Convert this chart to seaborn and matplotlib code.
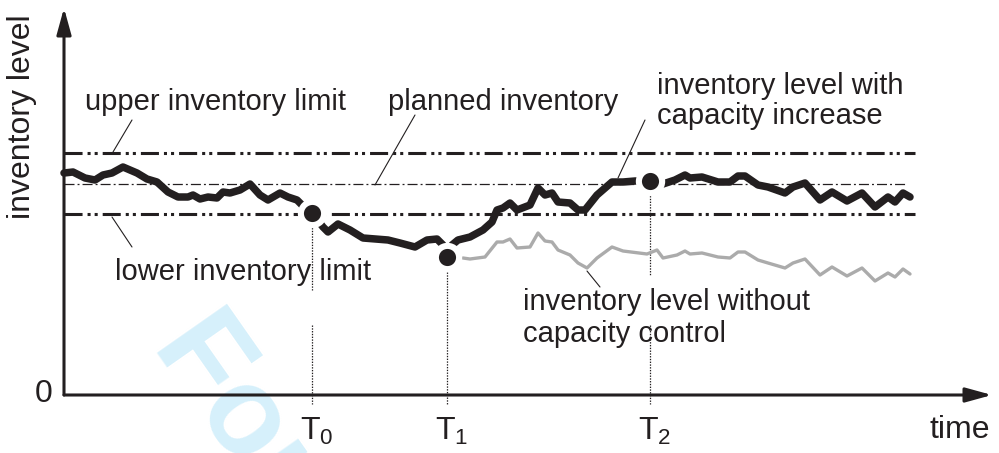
import matplotlib
matplotlib.use("Agg")
import matplotlib.pyplot as plt
import seaborn as sns
import pandas as pd

# ---------------- data (time units / inventory units) ----------------
black_time = [0, 9, 21, 31, 39, 48, 59, 73, 83, 93, 104, 114, 124, 129, 136, 144, 153, 159, 166, 176,
              186, 196, 204, 216, 224, 233, 238, 248,
              259, 264, 274, 286, 299, 324, 336, 351, 363, 373, 379, 383,
              388, 394, 406, 419, 428, 433, 439, 446, 453, 466, 474, 481, 488, 494, 506, 514, 521, 533,
              548, 559, 571, 586,
              599, 611, 621, 626, 638, 654, 666, 674, 681, 694, 704, 721, 729, 741, 756, 768, 783, 798,
              811, 824, 831, 839, 846]
black_level = [222, 223, 217, 215, 220, 222, 228, 222, 216, 213, 203, 198, 198, 200, 196, 198, 197, 203, 202, 205,
               211, 200, 195, 202, 198, 195, 190, 182,
               168, 163, 171, 165, 157, 155, 152, 148, 155, 156, 150, 138,
               150, 155, 158, 165, 173, 185, 187, 192, 185, 190, 207, 200, 202, 193, 192, 185, 185, 200,
               213, 213, 214, 214,
               211, 215, 220, 217, 218, 213, 213, 219, 219, 210, 208, 202, 208, 212, 195, 203, 194, 202,
               188, 198, 193, 202, 198]

gray_time = [399, 406, 421, 433, 439, 446, 453, 466, 474, 481, 488, 494, 506, 514, 523, 533, 548, 559, 583, 593,
             599, 613, 621, 626, 638, 654, 666, 674, 681, 694, 704, 721, 729, 741, 756, 768, 783, 798, 811, 824,
             831, 839, 846]
gray_level = [137, 136, 138, 153, 153, 156, 147, 148, 162, 154, 153, 145, 140, 132, 127, 137, 148, 144, 141, 145,
              137, 140, 144, 141, 142, 138, 137, 143, 143, 135, 132, 127, 132, 136, 120, 128, 119, 127, 114, 122,
              118, 126, 121]

upper_limit = 242
planned_level = 211
lower_limit = 181
limit_end = 851
planned_end = 843

event_labels = ["0", "1", "2"]
event_time = [248, 383, 586]
event_level = [182, 138, 214]

time_end = 928
level_end = 387

# ---------------- style ----------------
sns.set_theme(style="white")
plt.rcParams["font.family"] = ["Liberation Sans", "DejaVu Sans"]
plt.rcParams["mathtext.fontset"] = "custom"
plt.rcParams["mathtext.rm"] = "Liberation Sans"
plt.rcParams["mathtext.it"] = "Liberation Sans"
plt.rcParams["lines.scale_dashes"] = False

INK = "#231f20"
GRAY = "#ababab"

fig = plt.figure(figsize=(9.99, 4.53), dpi=100)
ax = fig.add_axes([0, 0, 1, 1])

# watermark (faint, behind everything)
ax.text(88, 50, "For Peer Review", rotation=-55, rotation_mode="anchor", ha="left", va="baseline",
        fontsize=89, fontweight="bold", color="#d6f0fb", zorder=0, family=["Liberation Sans"])

# axes with arrows
arrow_kw = dict(arrowstyle="-|>,head_length=0.8,head_width=0.22", lw=2.2, color=INK,
                shrinkA=0, shrinkB=0, mutation_scale=20)
ax.annotate("", xy=(0, level_end), xytext=(0, 0), arrowprops=arrow_kw, zorder=5)
ax.annotate("", xy=(time_end, 0), xytext=(0, 0), arrowprops=arrow_kw, zorder=5)

# limit lines
thick_dash = (0, (13, 3.6, 2.2, 2.9, 2.2, 3.6))
thin_dash = (0, (7.2, 2.2, 1.4, 2.2))
ax.plot([0, limit_end], [upper_limit, upper_limit], color=INK, lw=2.2, linestyle=thick_dash, zorder=2)
ax.plot([0, limit_end], [lower_limit, lower_limit], color=INK, lw=2.2, linestyle=thick_dash, zorder=2)
ax.plot([0, planned_end], [planned_level, planned_level], color=INK, lw=0.9, linestyle=thin_dash, zorder=2)

# dotted event markers
dot_style = dict(color=INK, lw=0.9, linestyle=(0, (1, 1)), zorder=1)
ax.plot([event_time[0]] * 2, [173, 105], **dot_style)
ax.plot([event_time[0]] * 2, [70, -9], **dot_style)
ax.plot([event_time[1]] * 2, [123, -9], **dot_style)
ax.plot([event_time[2]] * 2, [205, 120], **dot_style)
ax.plot([event_time[2]] * 2, [70, -9], **dot_style)

# series
gray_df = pd.DataFrame({"time": gray_time, "level": gray_level})
black_df = pd.DataFrame({"time": black_time, "level": black_level})
sns.lineplot(data=gray_df, x="time", y="level", ax=ax, color=GRAY, lw=2.4,
             estimator=None, sort=False, zorder=3)
sns.lineplot(data=black_df, x="time", y="level", ax=ax, color=INK, lw=5.4,
             estimator=None, sort=False, zorder=4)
ev_df = pd.DataFrame({"time": event_time, "level": event_level})
sns.scatterplot(data=ev_df, x="time", y="level", ax=ax, color=INK, s=280,
                edgecolor="white", linewidth=4.4, zorder=6)
ax.set_xlim(-64, 935)
ax.set_ylim(-58, 395)
ax.axis("off")

# leader lines
lead = dict(color=INK, lw=0.8, zorder=2)
ax.plot([68, 49], [275, 243], **lead)
ax.plot([351, 311], [280, 210], **lead)
ax.plot([581, 554], [275, 217], **lead)
ax.plot([48, 68], [178, 148], **lead)
ax.plot([523, 536], [124, 108], **lead)

# labels
lab = dict(fontsize=21, color=INK, ha="left", va="baseline", zorder=7)
ax.text(21, 285, "upper inventory limit", **lab)
ax.text(324, 285, "planned inventory", **lab)
ax.text(593, 301, "inventory level with", **lab)
ax.text(593, 271, "capacity increase", **lab)
ax.text(51, 115, "lower inventory limit", **lab)
ax.text(459, 85, "inventory level without", **lab)
ax.text(459, 53, "capacity control", **lab)

big = dict(fontsize=23, color=INK, zorder=7)
ax.text(-34, 278.5, "inventory level", rotation=90, rotation_mode="anchor",
        ha="center", va="baseline", **big)
ax.text(-20, 1, "0", ha="center", va="center", **big)
for name, t in zip(event_labels, event_time):
    ax.text(t - 12, -45, r"$\mathrm{T}_{%s}$" % name, ha="left", va="baseline", **big)
ax.text(866, -43, "time", ha="left", va="baseline", **big)

fig.savefig("out.png", dpi=100)
